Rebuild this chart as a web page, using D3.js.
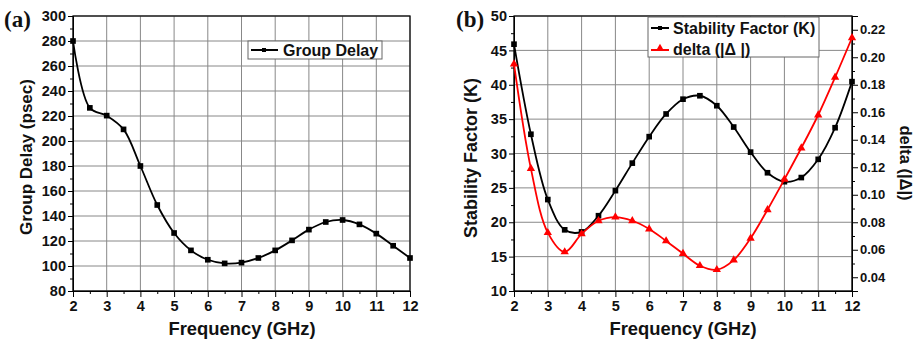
<!DOCTYPE html>
<html>
<head>
<meta charset="utf-8">
<script src="https://cdn.jsdelivr.net/npm/d3@7"></script>
<style>
  body { margin: 0; background: #fff; }
  text { font-family: "Liberation Sans", Arial, sans-serif; font-weight: bold; fill: #111; }
  .tick text { font-size: 14.5px; }
  .right .tick text { font-size: 13px; }
  .grid line { stroke: #888; stroke-width: 1; }
</style>
</head>
<body>
<div id="chart"></div>
<script>

// ======================= //
// DATA
// ======================= //

var freq = [2, 2.5, 3, 3.5, 4, 4.5, 5, 5.5, 6, 6.5, 7, 7.5, 8, 8.5, 9, 9.5, 10, 10.5, 11, 11.5, 12]

var groupDelay = [280, 226.5, 220.3, 209.3, 180, 148.8, 126.4, 112.5, 105, 102.1, 102.7, 106.4, 112.5, 120.5, 129.1, 135.2, 136.8, 133.3, 125.9, 116.2, 106.4]

var stabilityK = [45.9, 32.8, 23.3, 18.9, 18.6, 20.95, 24.6, 28.6, 32.45, 35.75, 37.9, 38.4, 36.95, 33.85, 30.2, 27.2, 25.9, 26.5, 29.15, 33.75, 40.45]

var delta = [0.195, 0.119, 0.0724, 0.0584, 0.0715, 0.0811, 0.0838, 0.0811, 0.0751, 0.0664, 0.0572, 0.0484, 0.0455, 0.0525, 0.0683, 0.0891, 0.1112, 0.134, 0.158, 0.1854, 0.2142]

var xTicks = [2, 3, 4, 5, 6, 7, 8, 9, 10, 11, 12]
var delayTicks = [80, 100, 120, 140, 160, 180, 200, 220, 240, 260, 280, 300]
var kTicks = [10, 15, 20, 25, 30, 35, 40, 45, 50]
var deltaTicks = [0.04, 0.06, 0.08, 0.10, 0.12, 0.14, 0.16, 0.18, 0.20, 0.22]
var deltaMinor = [0.03, 0.05, 0.07, 0.09, 0.11, 0.13, 0.15, 0.17, 0.19, 0.21, 0.23]


// ======================= //
// SVG AREA
// ======================= //

var svg = d3.select("#chart")
  .append("svg")
    .attr("width", 921)
    .attr("height", 340)

var top_ = 16, bottom_ = 291

// minor ticks: half way between majors
function minors(ticks) {
  var out = []
  for (var i = 0; i < ticks.length - 1; i++) out.push((ticks[i] + ticks[i+1]) / 2)
  return out
}

function drawGrid(g, x, y, yTicks) {
  g.append("g").attr("class", "grid")
    .selectAll("line").data(xTicks).enter().append("line")
      .attr("x1", function(d){ return x(d) }).attr("x2", function(d){ return x(d) })
      .attr("y1", top_).attr("y2", bottom_)
  g.append("g").attr("class", "grid")
    .selectAll("line").data(yTicks).enter().append("line")
      .attr("x1", x.range()[0]).attr("x2", x.range()[1])
      .attr("y1", function(d){ return y(d) }).attr("y2", function(d){ return y(d) })
}

function drawXAxis(g, x) {
  g.append("g")
    .attr("transform", "translate(0," + bottom_ + ")")
    .call(d3.axisBottom(x).tickValues(xTicks).tickSize(6).tickPadding(4).tickFormat(d3.format("d")))
  g.append("g")
    .attr("transform", "translate(0," + bottom_ + ")")
    .call(d3.axisBottom(x).tickValues(minors(xTicks)).tickSize(3).tickFormat(""))
    .select(".domain").remove()
}

function drawLeftAxis(g, x0, y, ticks) {
  g.append("g")
    .attr("transform", "translate(" + x0 + ",0)")
    .call(d3.axisLeft(y).tickValues(ticks).tickSize(5).tickPadding(2))
  g.append("g")
    .attr("transform", "translate(" + x0 + ",0)")
    .call(d3.axisLeft(y).tickValues(minors(ticks)).tickSize(3).tickFormat(""))
    .select(".domain").remove()
}

function drawSeries(g, x, y, vals, color, shape) {
  var line = d3.line()
    .x(function(d, i){ return x(freq[i]) })
    .y(function(d){ return y(d) })
    .curve(d3.curveCatmullRom)
  g.append("path")
    .datum(vals)
    .attr("fill", "none")
    .attr("stroke", color)
    .attr("stroke-width", 1.8)
    .attr("d", line)
  g.selectAll(null)
    .data(vals)
    .enter()
    .append("path")
      .attr("transform", function(d, i){ return "translate(" + x(freq[i]) + "," + y(d) + ")" })
      .attr("d", d3.symbol().type(shape).size(shape == d3.symbolSquare ? 32 : 30))
      .attr("fill", color)
}


// ======================= //
// PANEL (a)
// ======================= //

var ga = svg.append("g")
var xa = d3.scaleLinear().domain([2, 12]).range([73, 410])
var ya = d3.scaleLinear().domain([80, 300]).range([bottom_, top_])

drawGrid(ga, xa, ya, delayTicks)

// frame
ga.append("rect")
  .attr("x", 73).attr("y", top_).attr("width", 337).attr("height", bottom_ - top_)
  .attr("fill", "none").attr("stroke", "#111").attr("stroke-width", 1.3)

drawXAxis(ga, xa)
drawLeftAxis(ga, 73, ya, delayTicks)

drawSeries(ga, xa, ya, groupDelay, "#000", d3.symbolSquare)

// axis labels
ga.append("text")
  .attr("x", 242).attr("y", 335)
  .attr("text-anchor", "middle")
  .style("font-size", "18.4px")
  .text("Frequency (GHz)")
ga.append("text")
  .attr("transform", "translate(31.5,157) rotate(-90)")
  .attr("text-anchor", "middle")
  .style("font-size", "17px")
  .text("Group Delay (psec)")
ga.append("text")
  .attr("x", 4).attr("y", 27)
  .style("font-family", "'Liberation Serif', 'Times New Roman', serif")
  .style("font-size", "23px")
  .text("(a)")

// legend
var la = ga.append("g")
la.append("rect")
  .attr("x", 248).attr("y", 41).attr("width", 134).attr("height", 18)
  .attr("fill", "#fff").attr("stroke", "#666")
la.append("line")
  .attr("x1", 251).attr("x2", 278).attr("y1", 50).attr("y2", 50)
  .attr("stroke", "#000").attr("stroke-width", 2)
la.append("rect")
  .attr("x", 262).attr("y", 48).attr("width", 4).attr("height", 4)
  .attr("fill", "#000")
la.append("text")
  .attr("x", 283).attr("y", 56)
  .style("font-size", "16px")
  .text("Group Delay")


// ======================= //
// PANEL (b)
// ======================= //

var gb = svg.append("g")
var xb = d3.scaleLinear().domain([2, 12]).range([514, 852])
var yk = d3.scaleLinear().domain([10, 50]).range([bottom_, top_])
var yd = d3.scaleLinear().domain([0.03, 0.23]).range([bottom_, top_])

drawGrid(gb, xb, yk, kTicks)

gb.append("rect")
  .attr("x", 514).attr("y", top_).attr("width", 338).attr("height", bottom_ - top_)
  .attr("fill", "none").attr("stroke", "#111").attr("stroke-width", 1.3)

drawXAxis(gb, xb)
drawLeftAxis(gb, 514, yk, kTicks)
gb.append("g")
  .attr("class", "right")
  .attr("transform", "translate(852,0)")
  .call(d3.axisRight(yd).tickValues(deltaTicks).tickSize(6).tickPadding(2).tickFormat(d3.format(".2f")))
gb.append("g")
  .attr("transform", "translate(852,0)")
  .call(d3.axisRight(yd).tickValues(deltaMinor).tickSize(3).tickFormat(""))
  .select(".domain").remove()

drawSeries(gb, xb, yk, stabilityK, "#000", d3.symbolSquare)
drawSeries(gb, xb, yd, delta, "#ff0000", d3.symbolTriangle)

gb.append("text")
  .attr("x", 683).attr("y", 335)
  .attr("text-anchor", "middle")
  .style("font-size", "18.4px")
  .text("Frequency (GHz)")
gb.append("text")
  .attr("transform", "translate(476.5,158) rotate(-90)")
  .attr("text-anchor", "middle")
  .style("font-size", "18px")
  .text("Stability Factor (K)")
gb.append("text")
  .attr("transform", "translate(900,163) rotate(90)")
  .attr("text-anchor", "middle")
  .style("font-size", "16.5px")
  .text("delta (|\u0394|)")
gb.append("text")
  .attr("x", 456).attr("y", 27)
  .style("font-family", "'Liberation Serif', 'Times New Roman', serif")
  .style("font-size", "23px")
  .text("(b)")

// legend
var lb = gb.append("g")
lb.append("rect")
  .attr("x", 648).attr("y", 17).attr("width", 171).attr("height", 40)
  .attr("fill", "#fff").attr("stroke", "#666")
lb.append("line")
  .attr("x1", 651).attr("x2", 669).attr("y1", 28).attr("y2", 28)
  .attr("stroke", "#000").attr("stroke-width", 2)
lb.append("rect")
  .attr("x", 658).attr("y", 26).attr("width", 4).attr("height", 4)
  .attr("fill", "#000")
lb.append("line")
  .attr("x1", 651).attr("x2", 669).attr("y1", 50).attr("y2", 50)
  .attr("stroke", "#f00").attr("stroke-width", 2)
lb.append("path")
  .attr("transform", "translate(660,48.5)")
  .attr("d", d3.symbol().type(d3.symbolTriangle).size(30))
  .attr("fill", "#f00")
lb.append("text")
  .attr("x", 673).attr("y", 34)
  .style("font-size", "16px")
  .text("Stability Factor (K)")
lb.append("text")
  .attr("x", 673).attr("y", 55)
  .style("font-size", "16px")
  .text("delta (|\u0394 |)")

</script>
</body>
</html>
